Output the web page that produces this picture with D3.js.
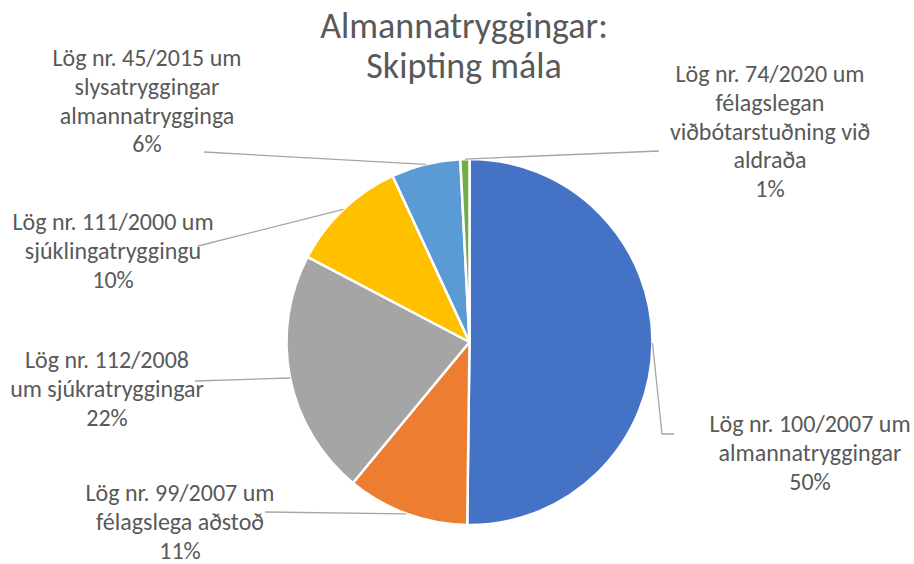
<!DOCTYPE html>
<html>
<head>
<meta charset="utf-8">
<script src="https://cdn.jsdelivr.net/npm/d3@7"></script>
<style>
  body { margin: 0; background: #fff; }
  svg { display: block; font-family: Carlito, "Open Sans", sans-serif; }
</style>
</head>
<body>
<svg id="chart" width="914" height="564"></svg>
<script>
// slices, clockwise from top
var categories = [
    ["Lög nr. 100/2007 um", "almannatryggingar"],
    ["Lög nr. 99/2007 um", "félagslega aðstoð"],
    ["Lög nr. 112/2008", "um sjúkratryggingar"],
    ["Lög nr. 111/2000 um", "sjúklingatryggingu"],
    ["Lög nr. 45/2015 um", "slysatryggingar", "almannatrygginga"],
    ["Lög nr. 74/2020 um", "félagslegan", "viðbótarstuðning við", "aldraða"]
];
var shares = [50.2, 10.8, 21.7, 10.4, 6.1, 0.8];
var pctLabels = ["50%", "11%", "22%", "10%", "6%", "1%"];
var colors = ["#4472C4", "#ED7D31", "#A5A5A5", "#FFC000", "#5B9BD5", "#70AD47"];

// label layout: text centre x, first baseline y, leader end point
var labelLayout = [
    {x: 810, y: 432, end: [[662, 434], [674, 434]]},
    {x: 180, y: 501, end: [[265, 512]]},
    {x: 107, y: 368, end: [[195, 381]]},
    {x: 113, y: 230, end: [[198, 246]]},
    {x: 147, y: 66, end: [[204, 152]]},
    {x: 770, y: 82, end: [[659, 151]]}
];

var svg = d3.select("#chart");
var cx = 469.5, cy = 342, r = 183;
var lineH = 28.8;

svg.append("text")
    .attr("text-anchor", "middle")
    .attr("fill", "#595959")
    .style("font-size", "36px")
    .selectAll("tspan")
    .data(["Almannatryggingar:", "Skipting mála"])
    .enter().append("tspan")
        .attr("x", 464)
        .attr("y", (d, i) => 38 + i * 40)
        .text(d => d);

var pie = d3.pie().sort(null).value(d => d)(shares);
var arc = d3.arc().innerRadius(0).outerRadius(r);

var g = svg.append("g").attr("transform", "translate(" + cx + "," + cy + ")");
g.selectAll("path")
    .data(pie)
    .enter().append("path")
        .attr("d", arc)
        .attr("fill", (d, i) => colors[i])
        .attr("stroke", "#fff")
        .attr("stroke-width", 2.5)
        .attr("stroke-linejoin", "round");

// leader lines from the middle of each slice's rim
var rim = d3.arc().innerRadius(r).outerRadius(r);
pie.forEach(function (d, i) {
    var c = rim.centroid(d);
    var pts = [[cx + c[0], cy + c[1]]].concat(labelLayout[i].end);
    svg.append("path")
        .attr("d", d3.line()(pts))
        .attr("fill", "none")
        .attr("stroke", "#a6a6a6")
        .attr("stroke-width", 1.3);
});

// labels
categories.forEach(function (lines, i) {
    var lay = labelLayout[i];
    svg.append("text")
        .attr("text-anchor", "middle")
        .attr("fill", "#595959")
        .style("font-size", "24px")
        .selectAll("tspan")
        .data(lines.concat([pctLabels[i]]))
        .enter().append("tspan")
            .attr("x", lay.x)
            .attr("y", (d, j) => lay.y + j * lineH)
            .text(d => d);
});
</script>
</body>
</html>
